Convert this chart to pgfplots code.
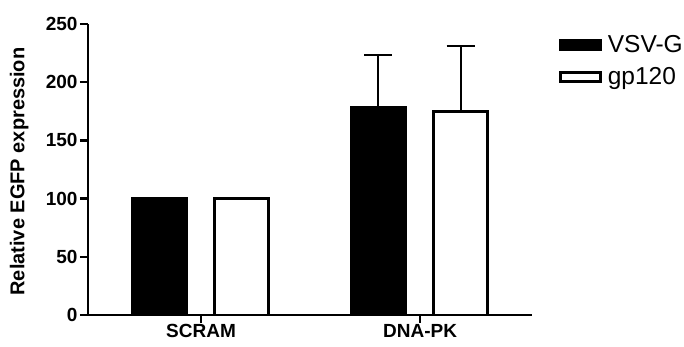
\documentclass[border=0pt]{standalone}
\usepackage{pgfplots}
\pgfplotsset{compat=1.18}
\usepackage{fontspec}
\setmainfont{Liberation Sans}

\begin{document}
\begin{tikzpicture}
\path[use as bounding box] (0,0) rectangle (684pt,347pt);
\begin{axis}[
  at={(88pt,32pt)}, anchor=south west,
  scale only axis,
  width=444pt, height=291pt,
  xmin=-0.516, xmax=1.511,
  ymin=0, ymax=250,
  axis x line*=bottom, axis y line*=left,
  axis line style={line width=2.6pt, -},
  ytick={0,50,100,150,200,250},
  xtick={0,1},
  xticklabels={SCRAM, DNA-PK},
  major tick length=8pt,
  tick align=outside,
  tick style={line width=2.4pt, black},
  /pgf/number format/assume math mode=true,
  yticklabel style={font=\fontsize{19}{19}\selectfont\bfseries, xshift=1pt},
  xticklabel style={font=\fontsize{19}{19}\selectfont\bfseries, yshift=2pt},
  ylabel={Relative EGFP expression},
  ylabel style={at={(axis description cs:-0.155,0.493)}, anchor=center,
                font=\fontsize{20}{20}\selectfont\bfseries},
  ybar,
  bar width=0.248,
  error bars/y dir=plus,
  error bars/y explicit,
  error bars/error mark options={rotate=90, mark size=14pt, line width=2pt},
  error bars/error bar style={line width=2pt},
  legend style={at={(axis description cs:1.060,0.962)}, anchor=north west,
                draw=none, fill=none,
                font=\fontsize{24.5}{24.5}\selectfont,
                nodes={font=\fontsize{24.5}{24.5}\selectfont, inner sep=0pt},
                row sep=14pt, inner sep=0pt, column sep=6pt},
  legend cell align=left,
  legend image code/.code={\draw[#1, line width=3pt] (0pt,-4.5pt) rectangle (40pt,4.5pt);},
]
\addplot[fill=black, draw=black, line width=2.8pt, bar shift=-0.19]
  coordinates {(0,100) +- (0,0) (1,178.5) +- (0,45)};
\addplot[fill=white, draw=black, line width=2.8pt, bar shift=0.185]
  coordinates {(0,100) +- (0,0) (1,174.5) +- (0,57)};
\legend{VSV-G, gp120}
\end{axis}
\end{tikzpicture}
\end{document}
